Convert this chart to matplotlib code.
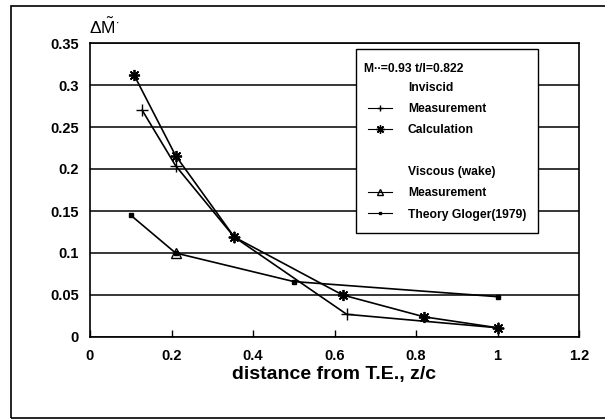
import matplotlib
matplotlib.use('Agg')
import matplotlib.pyplot as plt
from matplotlib.patches import Rectangle
from matplotlib.lines import Line2D

plt.rcParams['font.family'] = ['Liberation Sans', 'DejaVu Sans']
plt.rcParams['mathtext.fontset'] = 'custom'
plt.rcParams['mathtext.rm'] = 'Liberation Sans'
plt.rcParams['mathtext.it'] = 'Liberation Sans'

# inviscid measurement
inv_meas_x = [0.128, 0.21, 0.354, 0.63, 1.0]
inv_meas_y = [0.270, 0.204, 0.119, 0.027, 0.011]
# inviscid calculation
inv_calc_x = [0.108, 0.21, 0.354, 0.62, 0.82, 1.0]
inv_calc_y = [0.312, 0.216, 0.119, 0.050, 0.024, 0.011]
# viscous (wake) measurement
visc_meas_x = [0.21]
visc_meas_y = [0.100]
# theory Gloger (1979)
gloger_x = [0.1, 0.21, 0.5, 1.0]
gloger_y = [0.145, 0.100, 0.066, 0.048]

xticks = [0, 0.2, 0.4, 0.6, 0.8, 1, 1.2]
xtick_labels = ['0', '0.2', '0.4', '0.6', '0.8', '1', '1.2']
yticks = [0, 0.05, 0.1, 0.15, 0.2, 0.25, 0.3, 0.35]
ytick_labels = ['0', '0.05', '0.1', '0.15', '0.2', '0.25', '0.3', '0.35']

W, H = 605, 420
fig = plt.figure(figsize=(W / 100, H / 100), dpi=100)
ax = fig.add_axes([90 / W, 1 - 337 / H, (579 - 90) / W, (337 - 43) / H])

# outer frame
fig.patches.append(Rectangle((11 / W, 2 / H), 1.2, 1 - 8 / H, transform=fig.transFigure,
                             fill=False, edgecolor='black', linewidth=1.2))

ax.plot(inv_meas_x, inv_meas_y, color='black', lw=1.2, marker='+', ms=9, mew=1.0)
ax.plot(inv_calc_x, inv_calc_y, color='black', lw=1.2, marker=(8, 2, 0), ms=8, mew=1.3)
ax.plot(gloger_x, gloger_y, color='black', lw=1.2, marker='s', ms=2.5)
ax.plot(visc_meas_x, visc_meas_y, color='black', lw=1.2, marker='^', ms=7, mfc='none', mew=1.0)

ax.set_xlim(0, 1.2)
ax.set_ylim(0, 0.35)
ax.set_xticks(xticks)
ax.set_xticklabels(xtick_labels)
ax.set_yticks(yticks)
ax.set_yticklabels(ytick_labels)
ax.yaxis.grid(True, color='black', lw=1.1)
ax.set_axisbelow(True)
ax.tick_params(axis='x', direction='in', length=5, width=1, pad=9, labelsize=10.5)
ax.tick_params(axis='y', length=0, pad=8, labelsize=10.5)
for lab in ax.get_xticklabels() + ax.get_yticklabels():
    lab.set_fontweight('bold')
for sp in ax.spines.values():
    sp.set_linewidth(1.2)

ax.set_xlabel('distance from T.E., z/c', fontsize=14, fontweight='bold', labelpad=2)

# y label: delta M tilde dot
fig.text(104 / W, 1 - 27 / H, r'$\Delta\tilde{M}^{\bullet}$', fontsize=12.5,
         ha='center', va='center')

handles = [
    Line2D([], [], color='none'),
    Line2D([], [], color='none'),
    Line2D([], [], color='black', lw=0.8, marker='+', ms=4),
    Line2D([], [], color='black', lw=0.8, marker=(8, 2, 0), ms=6),
    Line2D([], [], color='none'),
    Line2D([], [], color='none'),
    Line2D([], [], color='black', lw=0.8, marker='^', ms=5, mfc='none'),
    Line2D([], [], color='black', lw=0.8, marker='s', ms=1.5),
]
labels = ['', 'Inviscid', 'Measurement', 'Calculation', '', 'Viscous (wake)',
          'Measurement', 'Theory Gloger(1979)']
leg = ax.legend(handles, labels, loc='upper left', bbox_to_anchor=((356 - 90) / 489, 1 - (49 - 43) / 294),
                frameon=True, fancybox=False, edgecolor='black', framealpha=1,
                prop={'weight': 'bold', 'size': 8.7}, handlelength=2.0, labelspacing=0.75,
                borderpad=1.0, handletextpad=1.3, borderaxespad=0)
leg.get_frame().set_linewidth(1.0)
fig.text(364 / W, 1 - 69 / H, 'M\u2219\u2219=0.93 t/l=0.822', fontsize=8.7, fontweight='bold',
         ha='left', va='center')

fig.savefig('out.png', dpi=100)
